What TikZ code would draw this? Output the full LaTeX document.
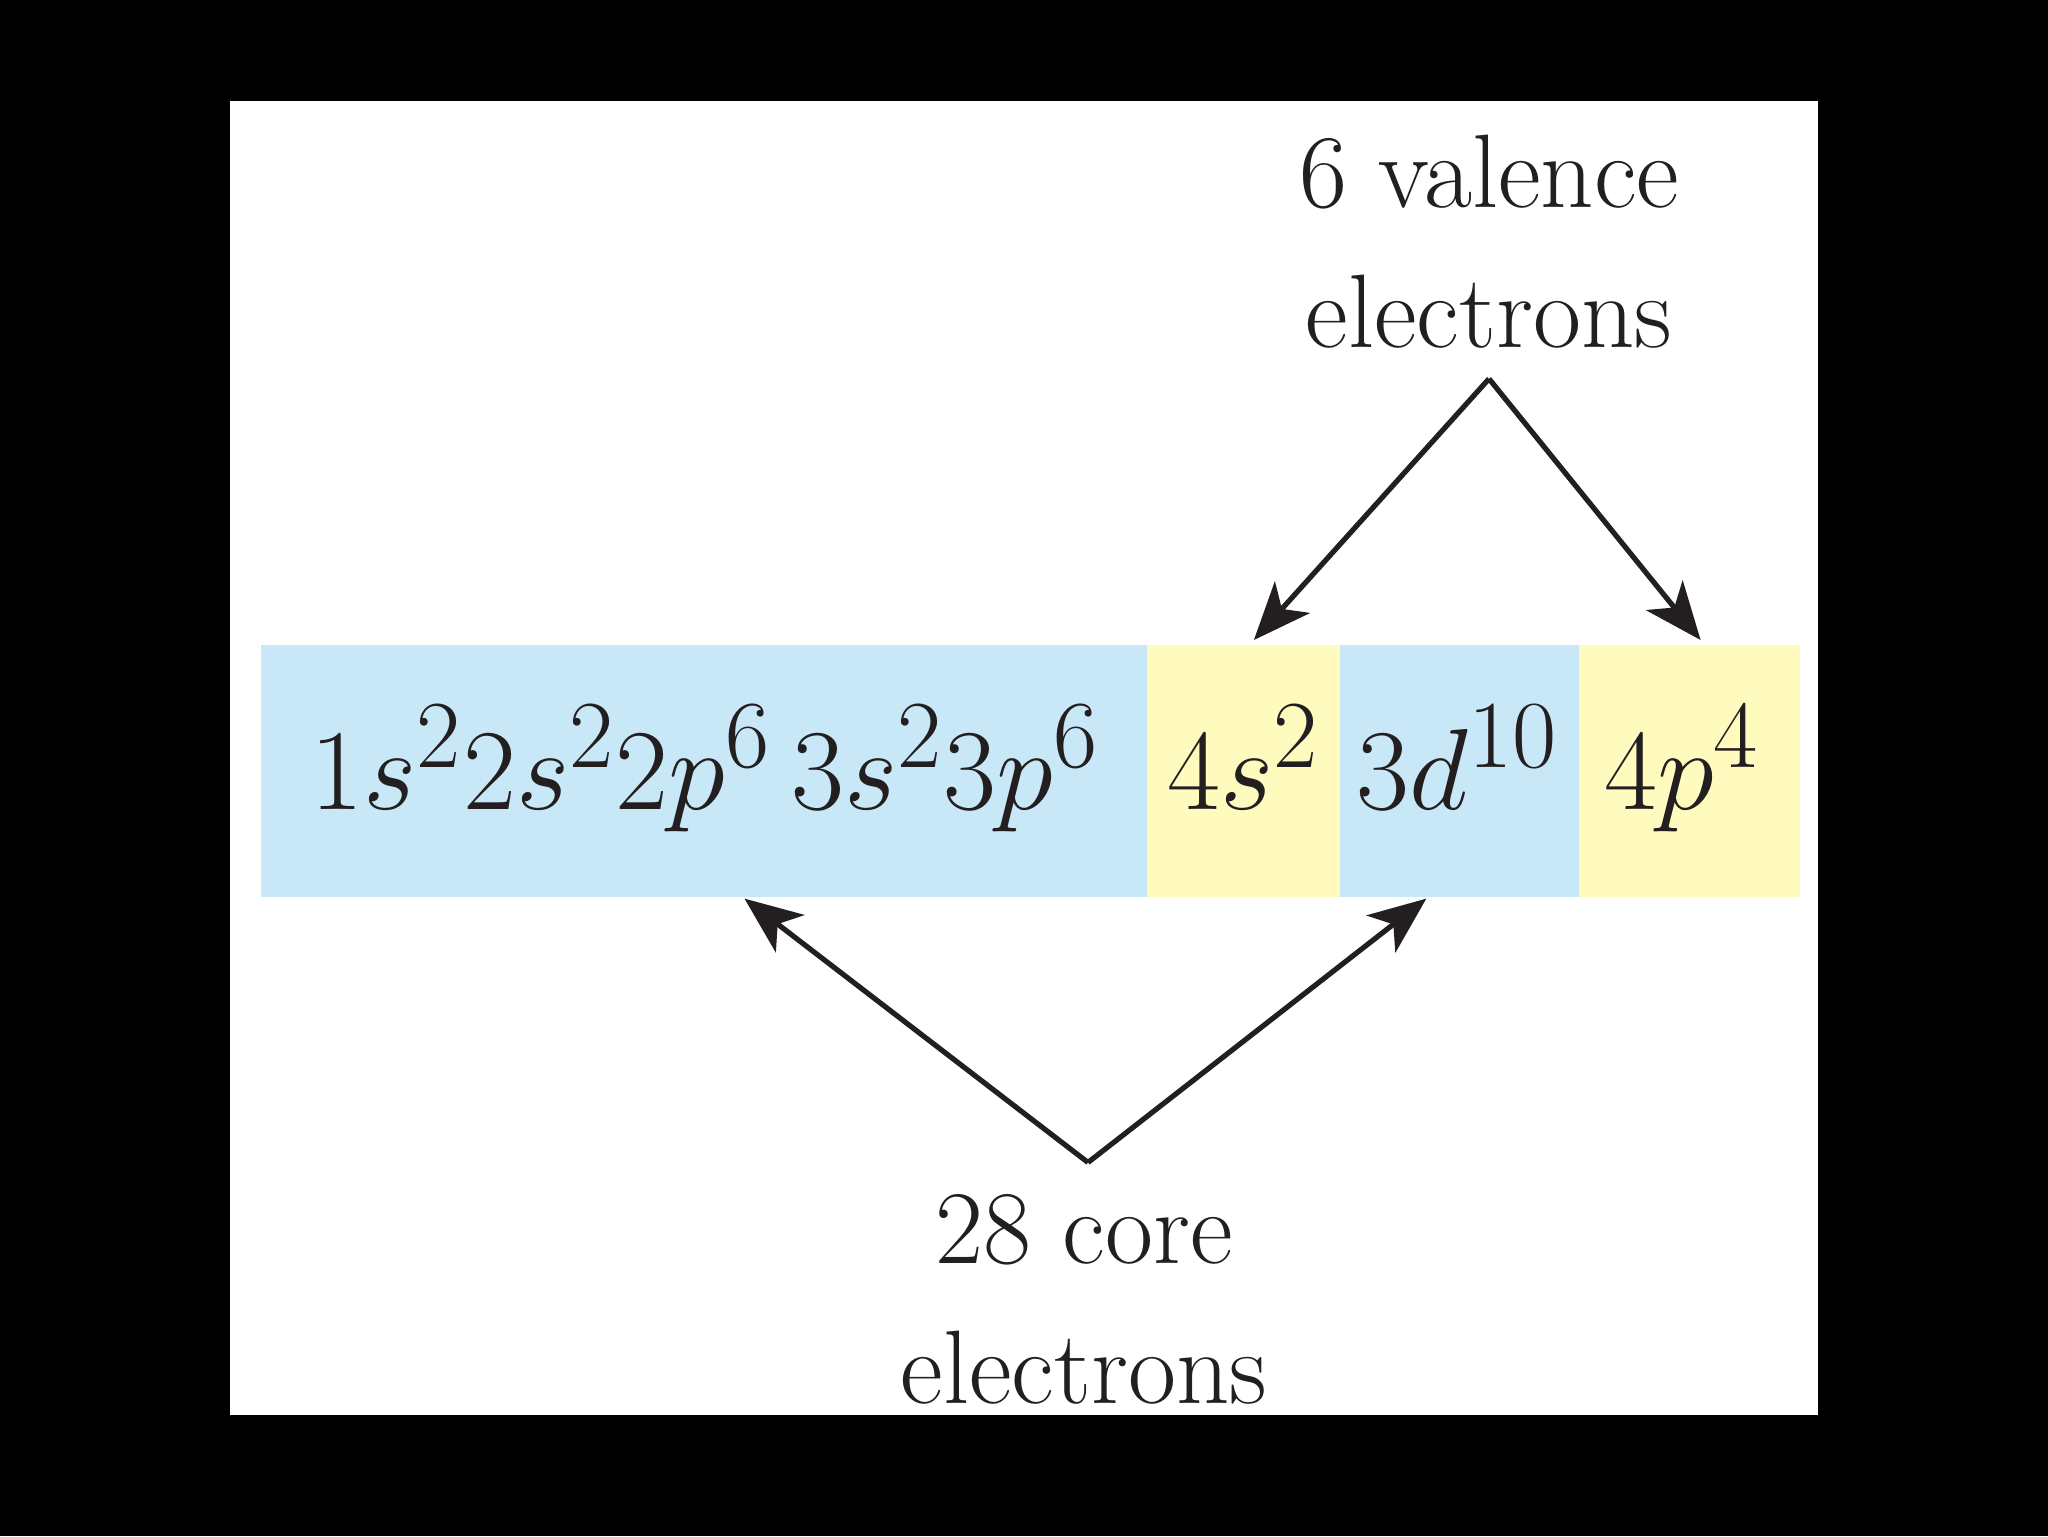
\documentclass[tikz,border=0pt]{standalone}
\usetikzlibrary{arrows.meta}
\definecolor{cblue}{RGB}{200,232,248}
\definecolor{cyel}{RGB}{255,250,190}
\definecolor{ink}{RGB}{35,31,32}
\begin{document}
\begin{tikzpicture}[x=1pt,y=-1pt,
  cfg/.style={anchor=base,inner sep=0pt,text=ink,font=\Huge,scale=3.55},
  lbl/.style={align=center,text=ink,inner sep=0pt,font=\fontsize{80}{107}\selectfont},
  arr/.style={line width=4pt,draw=ink,-{Stealth[length=44pt,width=36pt,inset=12pt]}}]
\useasboundingbox (0,0) rectangle (1568,1176);
\fill[black] (0,0) rectangle (1568,1176);
\fill[white] (176,77) rectangle (1392,1083);
\fill[cblue] (200,494) rectangle (878,687);
\fill[cyel] (878,494) rectangle (1026,687);
\fill[cblue] (1026,494) rectangle (1209,687);
\fill[cyel] (1209,494) rectangle (1378,687);
\node[cfg] (c1) at (540,620) {$1s^2 2s^2 2p^6\, 3s^2 3p^6$};
\node[cfg] (c2) at (952,620) {$4s^2$};
\node[cfg] (c3) at (1116,620) {$3d^{10}$};
\node[cfg] (c4) at (1288,620) {$4p^4$};
\node[lbl] (val) at (1140,185) {6 valence\\electrons};
\node[lbl] (core) at (830,995) {28 core\\electrons};
\coordinate (vt) at (1140,290);
\coordinate (ct) at (833,890);
\coordinate (a1) at (960,490);
\coordinate (a2) at (1302,490);
\coordinate (b1) at (570,688);
\coordinate (b2) at (1092,688);
\draw[arr] (vt) -- (a1);
\draw[arr] (vt) -- (a2);
\draw[arr] (ct) -- (b1);
\draw[arr] (ct) -- (b2);
\end{tikzpicture}
\end{document}
